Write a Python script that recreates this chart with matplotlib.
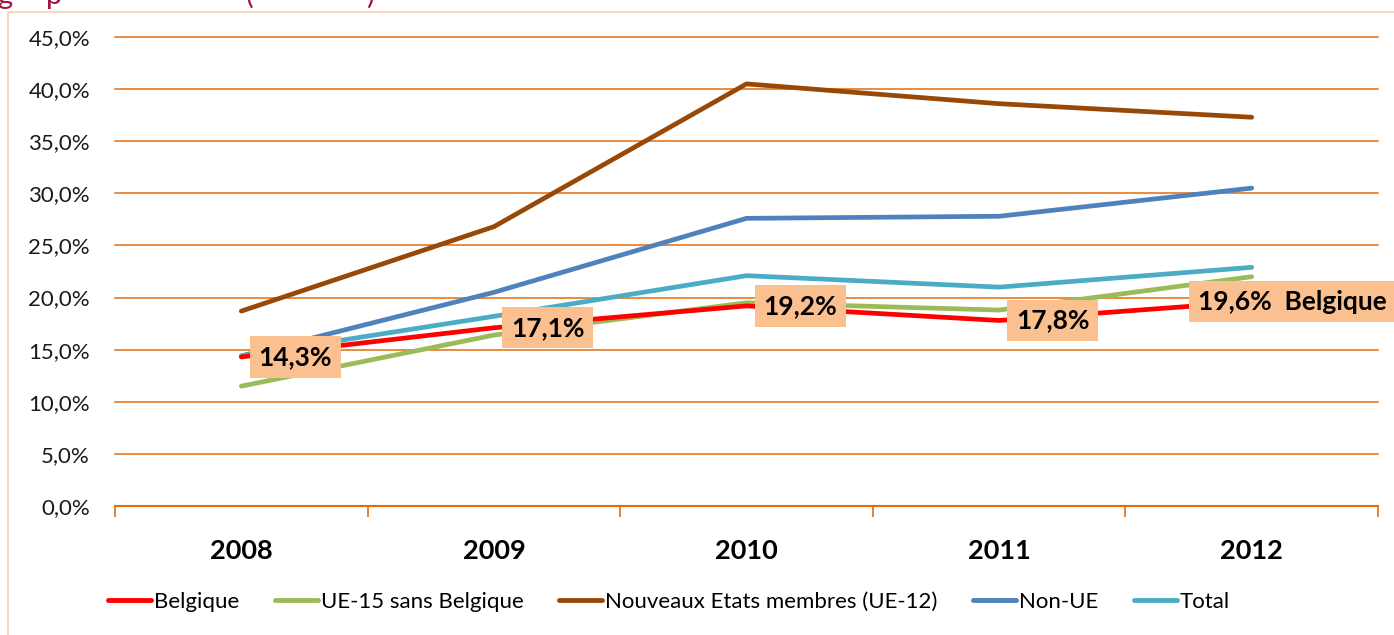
import matplotlib
matplotlib.use("Agg")
import matplotlib.pyplot as plt
from matplotlib.lines import Line2D
from matplotlib.patches import Rectangle

years = ["2008", "2009", "2010", "2011", "2012"]
belgique = [14.3, 17.1, 19.2, 17.8, 19.6]
ue15 = [11.5, 16.4, 19.5, 18.8, 22.0]
nouveaux = [18.7, 26.8, 40.5, 38.6, 37.3]
non_ue = [14.4, 20.5, 27.6, 27.8, 30.5]
total = [14.4, 18.2, 22.1, 21.0, 22.9]
yticks = [0, 5, 10, 15, 20, 25, 30, 35, 40, 45]
ytick_labels = ["0,0%", "5,0%", "10,0%", "15,0%", "20,0%", "25,0%", "30,0%", "35,0%", "40,0%", "45,0%"]
bel_labels = ["14,3%", "17,1%", "19,2%", "17,8%", "19,6%  Belgique"]

series = [
    ("Belgique", belgique, "#FF0000"),
    ("UE-15 sans Belgique", ue15, "#9BBB59"),
    ("Nouveaux Etats membres (UE-12)", nouveaux, "#984807"),
    ("Non-UE", non_ue, "#4F81BD"),
    ("Total", total, "#4BACC6"),
]

plt.rcParams['font.family'] = ['Lato', 'DejaVu Sans']

W, H = 1394, 635
fig = plt.figure(figsize=(W / 100, H / 100), dpi=100)

# chart border
fig.add_artist(Rectangle((8 / W, -0.1), 1.2, 1 - 12 / H + 0.1, transform=fig.transFigure,
                         fill=False, edgecolor="#FBD8BC", linewidth=1.5))

# cut-off title fragments (only the lower part of the title line is visible)
title_color = "#A0153E"
for ch, xp in [("g", -3), ("p", 46), ("(", 246), (")", 366)]:
    fig.text(xp / W, 1 - 4 / H, ch, fontsize=21, color=title_color, va="baseline", ha="left")

ax = fig.add_axes([115 / W, 1 - 506 / H, (1378 - 115) / W, (506 - 37) / H])
x = list(range(len(years)))

grid_color = "#E46C0A"
for yv in yticks[1:]:
    ax.axhline(yv, color=grid_color, linewidth=1.1, zorder=1, clip_on=False)

for idx in [2, 3, 4, 1, 0]:
    name, vals, col = series[idx]
    ax.plot(x, vals, color=col, linewidth=3.4, solid_capstyle="round", zorder=3)

ax.set_xlim(-0.5, 4.5)
ax.set_ylim(0, 45)
for s in ["top", "right", "left"]:
    ax.spines[s].set_visible(False)
ax.spines["bottom"].set_color(grid_color)
ax.spines["bottom"].set_linewidth(1.5)

ax.set_yticks(yticks)
ax.set_yticklabels(ytick_labels, fontsize=16, color="#1a1a1a")
ax.tick_params(axis="y", length=0, pad=18)

ax.set_xticks(x)
ax.set_xticklabels(years, fontsize=19.5, fontweight="bold", color="black")
ax.tick_params(axis="x", which="major", length=0, pad=24)
ax.set_xticks([v - 0.5 for v in range(len(years) + 1)], minor=True)
ax.tick_params(axis="x", which="minor", length=8, width=1.2, color=grid_color, direction="out")

# data labels for Belgique
for i, (xv, yv, lab) in enumerate(zip(x, belgique, bel_labels)):
    dx = 17 if i < 4 else -54
    ax.annotate(lab, xy=(xv, yv), xytext=(dx, 0), textcoords="offset pixels",
                ha="left", va="center", fontsize=19, fontweight="bold", color="black",
                bbox=dict(boxstyle="square,pad=0.33", facecolor="#FAC090", edgecolor="none"),
                zorder=5, annotation_clip=False)

handles = [Line2D([0], [0], color=c, linewidth=3.5, solid_capstyle="round") for _, _, c in series]
labels = [n for n, _, _ in series]
fig.legend(handles, labels, loc="center left", bbox_to_anchor=(108 / W, 1 - 602 / H), ncol=5,
           frameon=False, fontsize=16, handlelength=1.95, handletextpad=0.12, columnspacing=1.6,
           borderpad=0, borderaxespad=0)

fig.savefig("out.png", dpi=100)
